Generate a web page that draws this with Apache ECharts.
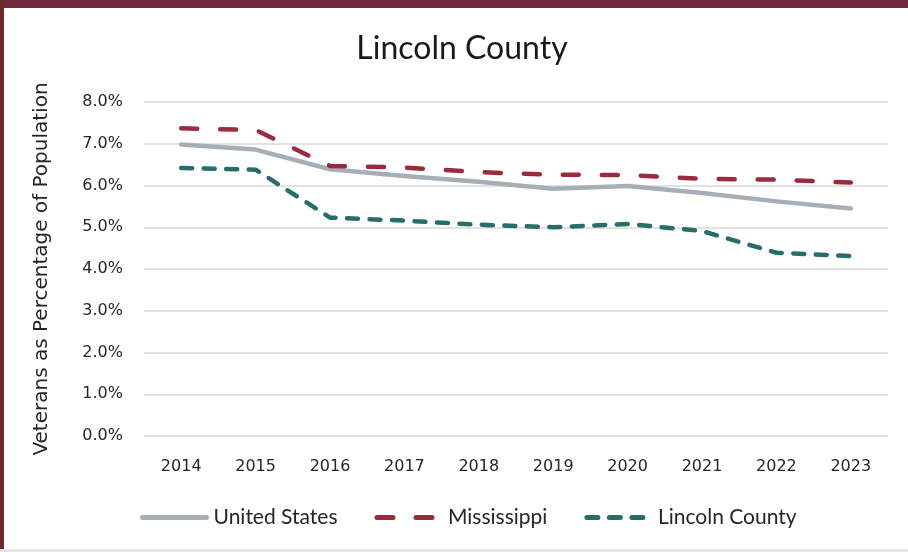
<!DOCTYPE html>
<html>
<head>
<meta charset="utf-8">
<script src="https://cdn.jsdelivr.net/npm/echarts@6/dist/echarts.min.js"></script>
<style>
html,body{margin:0;padding:0;background:#fff;}
#wrap{position:relative;width:908px;height:552px;overflow:hidden;background:#fff;}
#chart{position:absolute;left:0;top:0;width:908px;height:552px;}
.b{position:absolute;pointer-events:none;}
</style>
</head>
<body>
<div id="wrap">
<div id="chart"></div>
<div class="b" style="left:0;top:0;width:908px;height:8px;background:#6E2C3F;"></div>
<div class="b" style="left:0;top:0;width:4px;height:552px;background:#6B2A2C;"></div>
<div class="b" style="left:0;top:549px;width:908px;height:3px;background:#E6E6E6;"></div>
</div>
<script>
var years = ['2014','2015','2016','2017','2018','2019','2020','2021','2022','2023'];
var unitedStates = [6.98, 6.86, 6.39, 6.23, 6.09, 5.92, 5.99, 5.82, 5.62, 5.45];
var mississippi = [7.37, 7.33, 6.47, 6.43, 6.32, 6.26, 6.25, 6.16, 6.14, 6.07];
var lincolnCounty = [6.42, 6.38, 5.23, 5.16, 5.06, 5.00, 5.08, 4.91, 4.39, 4.31];
var yTicks = {min: 0, max: 8, interval: 1};
var titleText = 'Lincoln County';
var yName = 'Veterans as Percentage of Population';

var chart = echarts.init(document.getElementById('chart'));
var lw = 4.5;
chart.setOption({
  animation: false,
  backgroundColor: '#fff',
  title: {
    text: titleText,
    left: 457, top: 28, textAlign: 'center',
    textStyle: {fontFamily: 'Lato', fontWeight: 'normal', fontSize: 32, color: '#1a1a1a'}
  },
  grid: {left: 144, right: 20, top: 102, bottom: 116, containLabel: false},
  legend: {
    left: 135, top: 502,
    itemWidth: 64, itemHeight: 12, itemGap: 37,
    itemStyle: {opacity: 0},
    lineStyle: {width: 5, cap: 'round'},
    textStyle: {fontFamily: 'Lato', fontSize: 21, color: '#262626', padding: [0,0,0,2]},
    data: ['United States', 'Mississippi', 'Lincoln County']
  },
  xAxis: {
    type: 'category', data: years, boundaryGap: true,
    axisLine: {show: false}, axisTick: {show: false},
    axisLabel: {fontFamily: 'DejaVu Sans', fontSize: 16, color: '#262626', margin: 23}
  },
  yAxis: {
    type: 'value', min: yTicks.min, max: yTicks.max, interval: yTicks.interval,
    name: yName, nameLocation: 'middle', nameGap: 92,
    nameTextStyle: {fontFamily: 'DejaVu Sans', fontSize: 20, color: '#262626'},
    axisLine: {show: false}, axisTick: {show: false},
    axisLabel: {fontFamily: 'DejaVu Sans', fontSize: 16, color: '#262626', margin: 21,
      formatter: function(v){ return v.toFixed(1) + '%'; }},
    splitLine: {lineStyle: {color: '#D9D9D9', width: 1.5}}
  },
  series: [
    {name: 'United States', type: 'line', data: unitedStates, symbol: 'none',
     itemStyle: {color: '#A6AEB7'},
     lineStyle: {color: '#A6AEB7', width: lw, cap: 'round', join: 'round'}},
    {name: 'Mississippi', type: 'line', data: mississippi, symbol: 'none',
     itemStyle: {color: '#9B2A3C'},
     lineStyle: {color: '#9B2A3C', width: lw, type: [16, 23], cap: 'round', join: 'round'}},
    {name: 'Lincoln County', type: 'line', data: lincolnCounty, symbol: 'none',
     itemStyle: {color: '#276D6B'},
     lineStyle: {color: '#276D6B', width: lw, type: [11, 11.5], cap: 'round', join: 'round'}}
  ]
});
</script>
</body>
</html>
